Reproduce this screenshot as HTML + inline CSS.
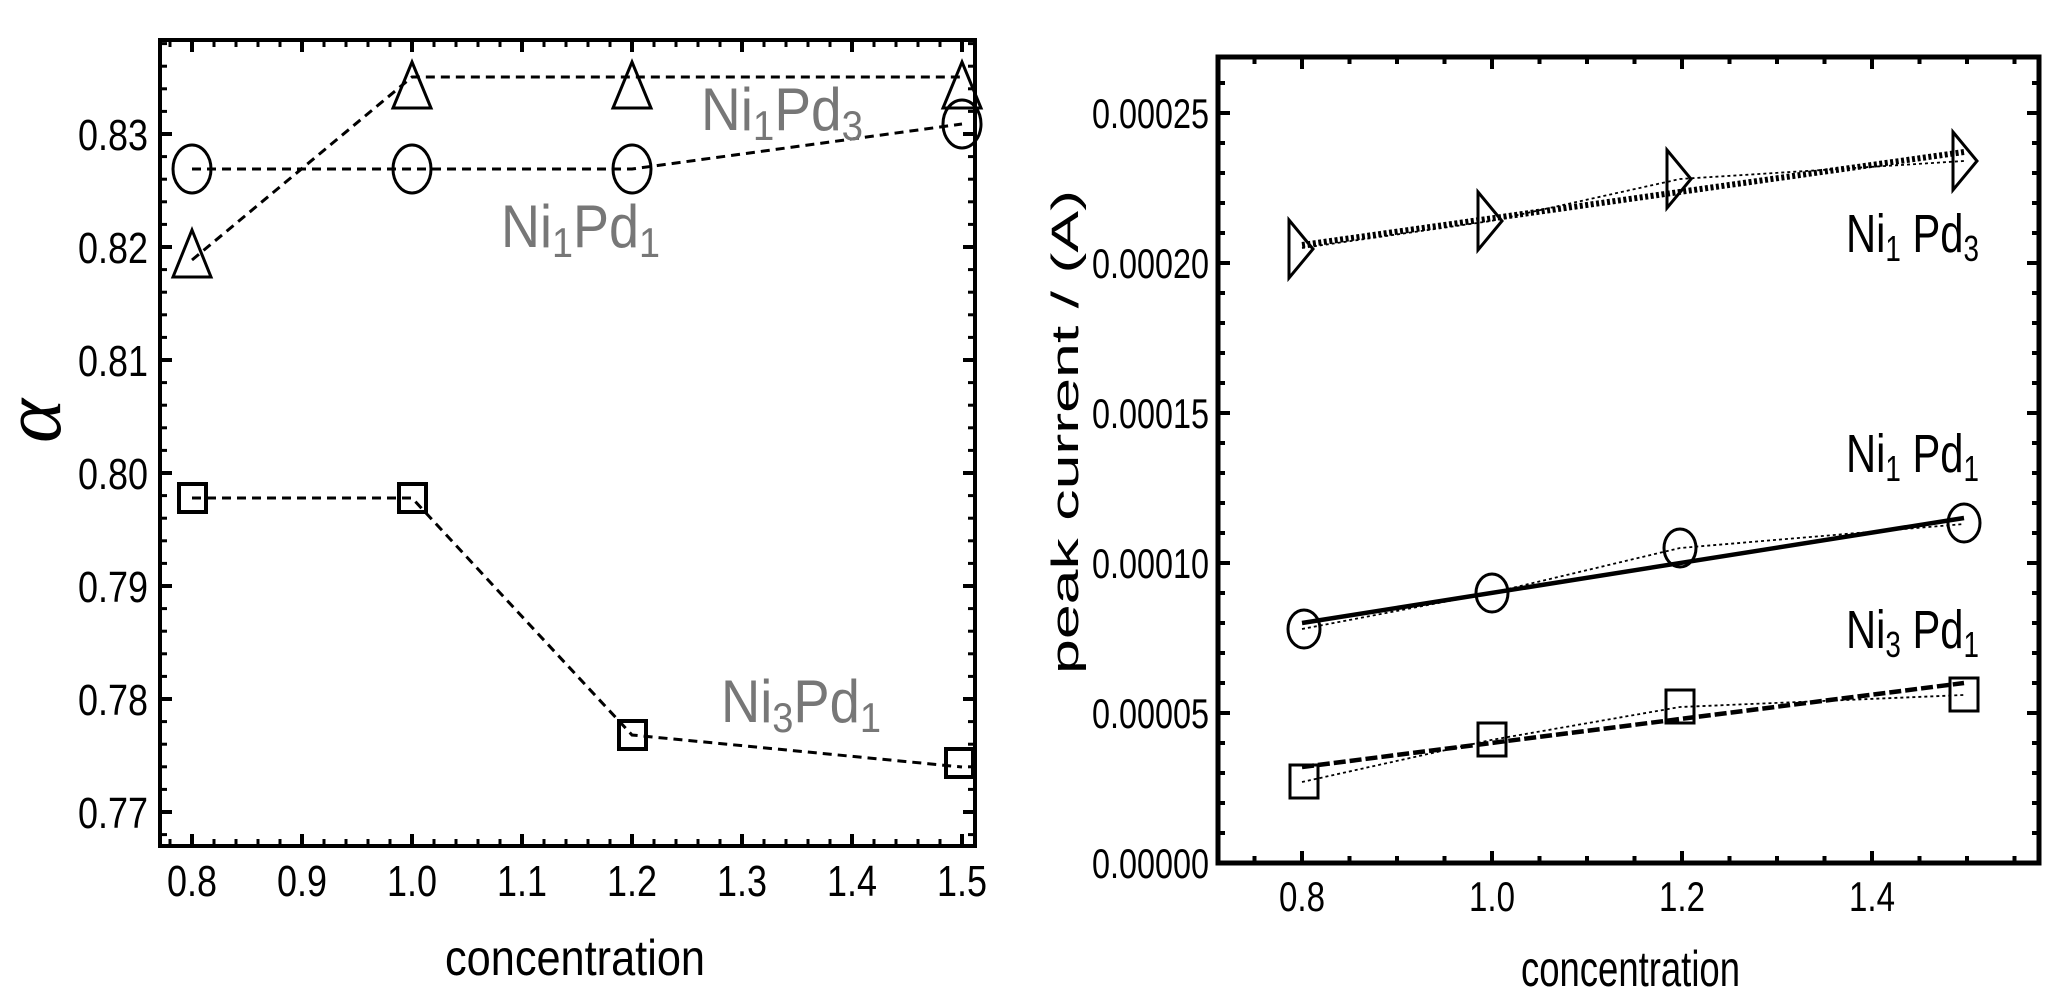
<!DOCTYPE html>
<html><head><meta charset="utf-8"><style>
html,body{margin:0;padding:0;background:#fff;}
svg{display:block;font-family:"Liberation Sans",sans-serif;}
</style></head><body>
<svg id="s" width="2064" height="990" viewBox="0 0 2064 990" xmlns="http://www.w3.org/2000/svg">
<rect width="2064" height="990" fill="#fff"/>
<!-- LEFT PANEL -->
<g fill="none" stroke="#000" stroke-width="3" stroke-dasharray="9 6">
<polyline points="192,260 412,77 632,77 962,77"/>
<polyline points="192,169 412,169 632,169 962,124"/>
<polyline points="192,498 412,498 632,735 962,767"/>
</g>
<g fill="none" stroke="#000" stroke-width="3">
<polygon points="192,230 211,277 173,277"/>
<polygon points="412,62 431,108 393,108"/>
<polygon points="632,62 651,108 613,108"/>
<polygon points="962,62 981,108 943,108"/>
<ellipse cx="192" cy="169" rx="19" ry="24"/>
<ellipse cx="412" cy="169" rx="19" ry="24"/>
<ellipse cx="632" cy="169" rx="19" ry="24"/>
<ellipse cx="962" cy="124" rx="19" ry="24"/>
</g>
<g fill="none" stroke="#000" stroke-width="4">
<rect x="179" y="484" width="27" height="28"/>
<rect x="399" y="484" width="27" height="28"/>
<rect x="619" y="721" width="27" height="28"/>
<rect x="946" y="749" width="27" height="28"/>
</g>
<g fill="#777" font-size="60">
<text x="701" y="130" textLength="162" lengthAdjust="spacingAndGlyphs">Ni<tspan font-size="42" dy="10">1</tspan><tspan dy="-10">Pd</tspan><tspan font-size="42" dy="10">3</tspan></text>
<text x="501" y="247" textLength="159" lengthAdjust="spacingAndGlyphs">Ni<tspan font-size="42" dy="10">1</tspan><tspan dy="-10">Pd</tspan><tspan font-size="42" dy="10">1</tspan></text>
<text x="721" y="722" textLength="160" lengthAdjust="spacingAndGlyphs">Ni<tspan font-size="42" dy="10">3</tspan><tspan dy="-10">Pd</tspan><tspan font-size="42" dy="10">1</tspan></text>
</g>
<g id="lt"></g>
<rect x="160" y="40" width="815" height="806" fill="none" stroke="#000" stroke-width="4"/>
<text x="0" y="0" transform="translate(60,421) rotate(-90)" text-anchor="middle" font-family="Liberation Serif,serif" font-style="italic" font-size="84">α</text>
<text x="445" y="975" font-size="50" textLength="260" lengthAdjust="spacingAndGlyphs">concentration</text>

<!-- RIGHT PANEL -->
<g fill="none" stroke="#000" stroke-width="1.8" stroke-dasharray="3 3">
<polyline points="1302,248 1491,221 1680,179 1964,161"/>
<polyline points="1302,629 1491,593 1680,548 1964,524"/>
<polyline points="1302,782 1491,740 1680,707 1964,695"/>
</g>
<line x1="1302" y1="245" x2="1964" y2="152" stroke="#000" stroke-width="6" stroke-dasharray="3 2.5"/>
<line x1="1302" y1="623" x2="1964" y2="518" stroke="#000" stroke-width="4.5"/>
<line x1="1302" y1="767" x2="1964" y2="683" stroke="#000" stroke-width="4.5" stroke-dasharray="12 4"/>
<g fill="none" stroke="#000" stroke-width="3">
<polygon points="1289,220 1313,249 1289,278"/>
<polygon points="1478,192 1502,221 1478,250"/>
<polygon points="1667,150 1691,179 1667,208"/>
<polygon points="1953,132 1977,161 1953,190"/>
<ellipse cx="1304" cy="629" rx="16" ry="19"/>
<ellipse cx="1492" cy="593" rx="16" ry="19"/>
<ellipse cx="1680" cy="548" rx="16" ry="19"/>
<ellipse cx="1964" cy="523" rx="16" ry="19"/>
<rect x="1290" y="765" width="28" height="33"/>
<rect x="1478" y="723" width="28" height="33"/>
<rect x="1666" y="690" width="28" height="33"/>
<rect x="1950" y="678" width="28" height="33"/>
</g>
<g fill="#000" font-size="54">
<text x="1846" y="252" textLength="133" lengthAdjust="spacingAndGlyphs">Ni<tspan font-size="36" dy="9">1</tspan><tspan dy="-9"> Pd</tspan><tspan font-size="36" dy="9">3</tspan></text>
<text x="1846" y="472" textLength="133" lengthAdjust="spacingAndGlyphs">Ni<tspan font-size="36" dy="9">1</tspan><tspan dy="-9"> Pd</tspan><tspan font-size="36" dy="9">1</tspan></text>
<text x="1846" y="648" textLength="133" lengthAdjust="spacingAndGlyphs">Ni<tspan font-size="36" dy="9">3</tspan><tspan dy="-9"> Pd</tspan><tspan font-size="36" dy="9">1</tspan></text>
</g>
<g id="rt"></g>
<rect x="1218" y="57" width="821" height="806" fill="none" stroke="#000" stroke-width="5"/>
<text x="0" y="0" transform="translate(1078,432) rotate(-90)" text-anchor="middle" font-size="38" textLength="484" lengthAdjust="spacingAndGlyphs">peak current  / (A)</text>
<text x="1521" y="986" font-size="50" textLength="219" lengthAdjust="spacingAndGlyphs">concentration</text>
</svg>
<script>
var NS="http://www.w3.org/2000/svg";
function el(p,t,a,txt){var e=document.createElementNS(NS,t);for(var k in a)e.setAttribute(k,a[k]);if(txt!==undefined)e.textContent=txt;p.appendChild(e);return e;}
var lt=document.getElementById("lt"),rt=document.getElementById("rt");
function LX(c){return 192+(c-0.8)*1100;}
function LY(v){return 812-(v-0.77)*11300;}
for(var i=-1;i<=36;i++){var c=0.8+i*0.02,x=LX(c);if(x<163||x>973)continue;var maj=(i%5==0);var L=maj?12:7;
el(lt,"line",{x1:x,y1:846,x2:x,y2:846-L,stroke:"#000","stroke-width":maj?4:3});
el(lt,"line",{x1:x,y1:40,x2:x,y2:40+L,stroke:"#000","stroke-width":maj?4:3});
if(maj){var s=c.toFixed(1);el(lt,"text",{x:x,y:896,"text-anchor":"middle","font-size":44,textLength:50,lengthAdjust:"spacingAndGlyphs"},s);}}
for(var i=-5;i<=40;i++){var v=0.77+i*0.002,y=LY(v);if(y<42||y>844)continue;var maj=(i%5==0);var L=maj?12:7;
el(lt,"line",{x1:160,y1:y,x2:160+L,y2:y,stroke:"#000","stroke-width":maj?4:3});
el(lt,"line",{x1:975,y1:y,x2:975-L,y2:y,stroke:"#000","stroke-width":maj?4:3});
if(maj){el(lt,"text",{x:148,y:y+16,"text-anchor":"end","font-size":44,textLength:70,lengthAdjust:"spacingAndGlyphs"},v.toFixed(2));}}
function RX(c){return 1302+(c-0.8)*950;}
function RY(v){return 863-v*3000000;}
for(var i=-2;i<=16;i++){var c=0.8+i*0.05,x=RX(c);if(x<1221||x>2036)continue;var maj=(i%4==0);var L=maj?12:7;
el(rt,"line",{x1:x,y1:863,x2:x,y2:863-L,stroke:"#000","stroke-width":4});
el(rt,"line",{x1:x,y1:57,x2:x,y2:57+L,stroke:"#000","stroke-width":4});
if(maj){el(rt,"text",{x:x,y:911,"text-anchor":"middle","font-size":42,textLength:46,lengthAdjust:"spacingAndGlyphs"},c.toFixed(1));}}
for(var i=0;i<=27;i++){var v=i*0.00001,y=RY(v);if(y<60||y>863)continue;var maj=(i%5==0);var L=maj?12:7;
el(rt,"line",{x1:1218,y1:y,x2:1218+L,y2:y,stroke:"#000","stroke-width":4});
el(rt,"line",{x1:2039,y1:y,x2:2039-L,y2:y,stroke:"#000","stroke-width":4});
if(maj){el(rt,"text",{x:1209,y:y+15,"text-anchor":"end","font-size":42,textLength:117,lengthAdjust:"spacingAndGlyphs"},v.toFixed(5));}}
</script>
</body></html>
